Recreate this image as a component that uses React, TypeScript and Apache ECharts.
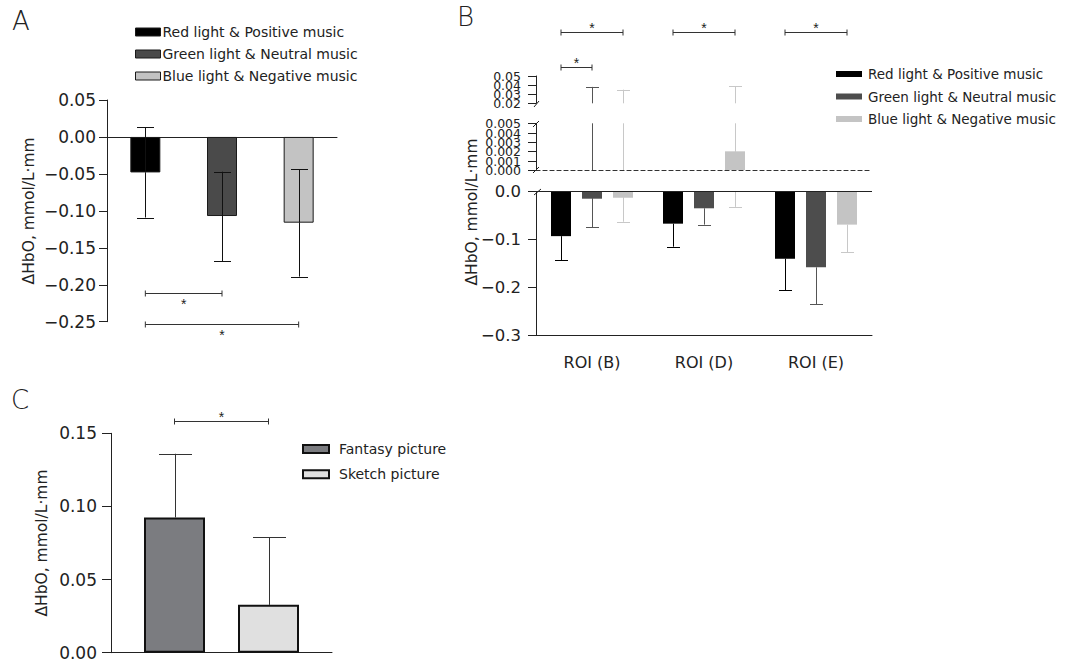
import React, { useEffect, useRef } from "react";
import * as echarts from "echarts";

// ---------------- Data ----------------
const conditionNames = [
  "Red light & Positive music",
  "Green light & Neutral music",
  "Blue light & Negative music",
];

// Panel A (ΔHbO per condition)
const meanA = [-0.048, -0.107, -0.116];
const lowA = [-0.109, -0.168, -0.189];
const highA = [0.013, -0.047, -0.044];
const yRangeA = [-0.25, 0.05, 0.05]; // min, max, step

// Panel B (per ROI, broken axis)
const roiCategories = ["ROI (B)", "ROI (D)", "ROI (E)"];
const meanRedB = [-0.093, -0.067, -0.14];
const meanGreenB = [-0.015, -0.035, -0.158];
const meanBlueB = [-0.013, 0.002, -0.069];
const lowRedB = [-0.143, -0.115, -0.206];
const lowGreenB = [-0.074, -0.069, -0.235];
const lowBlueB = [-0.063, -0.032, -0.127];
const highRedB: (number | null)[] = [null, null, null];
const highGreenB: (number | null)[] = [0.038, null, null];
const highBlueB: (number | null)[] = [0.035, 0.039, null];
const ticksTopB = [0.02, 0.03, 0.04, 0.05];
const ticksMidB = [0, 0.001, 0.002, 0.003, 0.004, 0.005];
const segLowB = [-0.3, 0, 0.1];

// Panel C
const pictureNames = ["Fantasy picture", "Sketch picture"];
const meanC = [0.0925, 0.0327];
const highC = [0.136, 0.0788];
const yRangeC = [0, 0.15, 0.05];

// Significance brackets (which bars are compared)
const sigA = [
  { catA: 0, catB: 1, level: 0 },
  { catA: 0, catB: 2, level: 1 },
];
const sigB = [
  { cat: 0, sA: 0, sB: 2, level: 0 },
  { cat: 0, sA: 0, sB: 1, level: 1 },
  { cat: 1, sA: 0, sB: 2, level: 0 },
  { cat: 2, sA: 0, sB: 2, level: 0 },
];
const sigC = [{ sA: 0, sB: 1, level: 0 }];

// ---------------- Style / layout ----------------
const FONT = "'DejaVu Sans', 'Liberation Sans', sans-serif";
const STAR_FONT = "'Liberation Sans', sans-serif";
const AXIS = "#222";
const TEXT = "#222";
const colorsA = ["#000000", "#4a4a4a", "#c3c3c3"];
const colorsB = ["#000000", "#4d4d4d", "#c4c4c4"];
const errColorsB = ["#000000", "#555555", "#c8c8c8"];
const colorsC = ["#7b7c80", "#e0e0e0"];
const bracketLevelA = [-0.2116, -0.2531];
const bracketLevelB = [0.0984, 0.0602];
const bracketLevelC = [0.1587];
const BAR_W_B = 20;
const GAP_B = 11;
const BAR_W_C = 61;
const GAP_C = 33;
const offB = (s: number) => (s - 1) * (BAR_W_B + GAP_B);
const offC = (s: number) => (s - 0.5) * (BAR_W_C + GAP_C);
const NAME = "ΔHbO, mmol/L·mm";

const fmt = (digits: number) => (v: number) =>
  (v < -1e-9 ? "\u2212" : "") + Math.abs(v).toFixed(digits);

const rangeOf = (ticks: number[]) => [ticks[0], ticks[ticks.length - 1], ticks[1] - ticks[0]];
const segTopB = rangeOf(ticksTopB);
const segMidB = rangeOf(ticksMidB);

type Num = number | null;

function errorBars(o: {
  xAxisIndex: number;
  yAxisIndex: number;
  means: number[];
  lows: Num[];
  highs: Num[];
  offset: number;
  color: string;
  cap: number;
  range: number[];
  z: number;
}) {
  const [rMin, rMax] = o.range;
  return {
    type: "custom",
    xAxisIndex: o.xAxisIndex,
    yAxisIndex: o.yAxisIndex,
    z: o.z,
    silent: true,
    itemStyle: { color: o.color },
    data: o.means.map((m, i) => [i, m]),
    encode: { x: 0, y: 1 },
    renderItem: (params: any, api: any) => {
      const i = params.dataIndex;
      const m = o.means[i];
      const cx = Math.round(api.coord([i, 0])[0] + o.offset) + 0.5;
      const children: any[] = [];
      const seg = (end: Num) => {
        if (end == null) return;
        const lo = Math.max(Math.min(m, end), rMin);
        const hi = Math.min(Math.max(m, end), rMax);
        if (lo >= hi) return;
        const y1 = api.coord([i, lo])[1];
        const y2 = api.coord([i, hi])[1];
        children.push({
          type: "line",
          shape: { x1: cx, y1, x2: cx, y2 },
          style: { stroke: o.color, lineWidth: 1 },
        });
        if (end >= rMin && end <= rMax) {
          const yb = Math.round(api.coord([i, end])[1]) + 0.5;
          children.push({
            type: "line",
            shape: { x1: cx - o.cap / 2, y1: yb, x2: cx + o.cap / 2, y2: yb },
            style: { stroke: o.color, lineWidth: 1 },
          });
        }
      };
      seg(o.lows[i]);
      seg(o.highs[i]);
      return { type: "group", children };
    },
  };
}

function brackets(o: {
  xAxisIndex: number;
  yAxisIndex: number;
  items: { catA: number; xA: number; catB: number; xB: number; y: number }[];
  starDy: number;
}) {
  return {
    type: "custom",
    xAxisIndex: o.xAxisIndex,
    yAxisIndex: o.yAxisIndex,
    z: 5,
    silent: true,
    clip: false,
    itemStyle: { color: "#222" },
    data: o.items.map((it) => [it.catA, it.y]),
    encode: { x: 0, y: 1 },
    renderItem: (params: any, api: any) => {
      const it = o.items[params.dataIndex];
      const pA = api.coord([it.catA, it.y]);
      const pB = api.coord([it.catB, it.y]);
      const x1 = pA[0] + it.xA;
      const x2 = pB[0] + it.xB;
      const y = Math.round(pA[1]) + 0.5;
      const st = { stroke: "#333", lineWidth: 1 };
      return {
        type: "group",
        children: [
          { type: "line", shape: { x1, y1: y, x2, y2: y }, style: st },
          { type: "line", shape: { x1, y1: y - 3, x2: x1, y2: y + 3 }, style: st },
          { type: "line", shape: { x1: x2, y1: y - 3, x2, y2: y + 3 }, style: st },
          {
            type: "text",
            style: {
              text: "*",
              x: (x1 + x2) / 2,
              y: y + o.starDy,
              align: "center",
              verticalAlign: "middle",
              fontFamily: STAR_FONT,
              fontSize: 14,
              fill: "#222",
            },
          },
        ],
      };
    },
  };
}

// Tick marks + labels for the short broken-axis segments (drawn so that none is hidden)
function tickLabels(o: {
  xAxisIndex: number;
  yAxisIndex: number;
  ticks: number[];
  digits: number;
  fontSize: number;
  tickLen: number;
  margin: number;
}) {
  return {
    type: "custom",
    xAxisIndex: o.xAxisIndex,
    yAxisIndex: o.yAxisIndex,
    z: 5,
    silent: true,
    clip: false,
    itemStyle: { color: TEXT },
    data: o.ticks.map((v) => [0, v]),
    encode: { x: 0, y: 1 },
    renderItem: (params: any, api: any) => {
      const v = o.ticks[params.dataIndex];
      const ax = params.coordSys.x;
      const y = Math.round(api.coord([0, v])[1]) + 0.5;
      return {
        type: "group",
        children: [
          {
            type: "line",
            shape: { x1: ax - o.tickLen, y1: y, x2: ax, y2: y },
            style: { stroke: AXIS, lineWidth: 1 },
          },
          {
            type: "text",
            style: {
              text: fmt(o.digits)(v),
              x: ax - o.margin,
              y,
              align: "right",
              verticalAlign: "middle",
              fontFamily: FONT,
              fontSize: o.fontSize,
              fill: TEXT,
            },
          },
        ],
      };
    },
  };
}

function valueAxis(
  gridIndex: number,
  r: number[],
  digits: number,
  fontSize: number,
  margin: number,
  tickLen: number,
  extra: any = {}
) {
  return {
    type: "value",
    gridIndex,
    min: r[0],
    max: r[1],
    interval: r[2],
    axisLine: { show: true, lineStyle: { color: AXIS, width: 1 } },
    axisTick: { show: true, length: tickLen, lineStyle: { color: AXIS, width: 1 } },
    splitLine: { show: false },
    axisLabel: {
      formatter: fmt(digits),
      fontFamily: FONT,
      fontSize,
      color: TEXT,
      margin,
      showMinLabel: true,
      showMaxLabel: true,
    },
    ...extra,
  };
}

function buildOption() {
  const gridBase = { outerBoundsMode: "none", containLabel: false };
  const grid = [
    { ...gridBase, left: 107, top: 100, width: 230, height: 221.7 },
    { ...gridBase, left: 536, top: 76, width: 336, height: 27.3 },
    { ...gridBase, left: 536, top: 123.3, width: 336, height: 46.7 },
    { ...gridBase, left: 536, top: 191.5, width: 336, height: 144 },
    { ...gridBase, left: 111, top: 433.3, width: 221, height: 219.4 },
  ];

  const xAxis = [
    {
      type: "category",
      gridIndex: 0,
      data: conditionNames,
      axisLine: { onZero: true, lineStyle: { color: AXIS, width: 1 } },
      axisTick: { show: false },
      axisLabel: { show: false },
    },
    { type: "category", gridIndex: 1, data: roiCategories, show: false },
    {
      type: "category",
      gridIndex: 2,
      data: roiCategories,
      position: "bottom",
      axisLine: { show: true, onZero: false, lineStyle: { color: "#333", width: 1.2, type: [4, 3] } },
      axisTick: { show: false },
      axisLabel: { show: false },
    },
    {
      type: "category",
      gridIndex: 3,
      data: roiCategories,
      position: "bottom",
      axisLine: { onZero: false, lineStyle: { color: AXIS, width: 1 } },
      axisTick: { alignWithLabel: true, length: 7, lineStyle: { color: AXIS } },
      axisLabel: { fontFamily: FONT, fontSize: 16, color: TEXT, margin: 19 },
    },
    {
      type: "category",
      gridIndex: 4,
      data: ["all"],
      axisLine: { onZero: true, lineStyle: { color: AXIS, width: 1 } },
      axisTick: { show: false },
      axisLabel: { show: false },
    },
  ];

  const nameStyle = { fontFamily: FONT, fontSize: 15.5, color: TEXT };
  const bare = { axisTick: { show: false }, axisLabel: { show: false } };
  const yAxis = [
    valueAxis(0, yRangeA, 2, 17, 11, 8, {
      name: NAME,
      nameLocation: "middle",
      nameGap: 70,
      nameTextStyle: nameStyle,
    }),
    valueAxis(1, segTopB, 2, 12.5, 15, 8, bare),
    valueAxis(2, segMidB, 3, 12.5, 15, 8, bare),
    valueAxis(3, segLowB, 1, 16.5, 15, 8),
    valueAxis(4, yRangeC, 2, 17, 14, 9, {
      name: NAME,
      nameLocation: "middle",
      nameGap: 61,
      nameTextStyle: nameStyle,
    }),
  ];

  const series: any[] = [];

  // ---- Panel A ----
  conditionNames.forEach((name, s) => {
    series.push({
      type: "bar",
      name,
      xAxisIndex: 0,
      yAxisIndex: 0,
      data: meanA.map((v, i) => (i === s ? v : null)),
      barWidth: 30,
      barGap: "-100%",
      itemStyle: { color: colorsA[s], borderColor: "#1a1a1a", borderWidth: 1 },
      z: 2,
      silent: true,
    });
  });
  series.push(
    errorBars({
      xAxisIndex: 0,
      yAxisIndex: 0,
      means: meanA,
      lows: lowA,
      highs: highA,
      offset: 0,
      color: "#111",
      cap: 17,
      range: [yRangeA[0], yRangeA[1]],
      z: 4,
    })
  );
  series.push(
    brackets({
      xAxisIndex: 0,
      yAxisIndex: 0,
      items: sigA.map((b) => ({ catA: b.catA, xA: 0, catB: b.catB, xB: 0, y: bracketLevelA[b.level] })),
      starDy: 10,
    })
  );

  // ---- Panel B ----
  const meansB = [meanRedB, meanGreenB, meanBlueB];
  const lowsB = [lowRedB, lowGreenB, lowBlueB];
  const highsB = [highRedB, highGreenB, highBlueB];
  const segs = [
    { g: 1, r: segTopB },
    { g: 2, r: segMidB },
    { g: 3, r: segLowB },
  ];
  series.push(
    tickLabels({ xAxisIndex: 1, yAxisIndex: 1, ticks: ticksTopB, digits: 2, fontSize: 12.5, tickLen: 8, margin: 15 }),
    tickLabels({ xAxisIndex: 2, yAxisIndex: 2, ticks: ticksMidB, digits: 3, fontSize: 12.5, tickLen: 8, margin: 15 })
  );
  [2, 3].forEach((g) => {
    conditionNames.forEach((name, s) => {
      series.push({
        type: "bar",
        name,
        xAxisIndex: g,
        yAxisIndex: g,
        data: meansB[s],
        barWidth: BAR_W_B,
        barGap: `${(GAP_B / BAR_W_B) * 100}%`,
        itemStyle: { color: colorsB[s] },
        clip: true,
        z: 3,
        silent: true,
        ...(g === 3 && s === 0
          ? {
              markLine: {
                silent: true,
                symbol: "none",
                label: { show: false },
                lineStyle: { color: AXIS, type: "solid", width: 1 },
                data: [{ yAxis: 0 }],
              },
            }
          : {}),
      });
    });
  });
  segs.forEach(({ g, r }) => {
    conditionNames.forEach((_, s) => {
      series.push(
        errorBars({
          xAxisIndex: g,
          yAxisIndex: g,
          means: meansB[s],
          lows: lowsB[s],
          highs: highsB[s],
          offset: offB(s),
          color: errColorsB[s],
          cap: 13,
          range: [r[0], r[1]],
          z: 2,
        })
      );
    });
  });
  series.push(
    brackets({
      xAxisIndex: 1,
      yAxisIndex: 1,
      items: sigB.map((b) => ({
        catA: b.cat,
        xA: offB(b.sA),
        catB: b.cat,
        xB: offB(b.sB),
        y: bracketLevelB[b.level],
      })),
      starDy: -5,
    })
  );

  // ---- Panel C ----
  pictureNames.forEach((name, s) => {
    series.push({
      type: "bar",
      name,
      xAxisIndex: 4,
      yAxisIndex: 4,
      data: [meanC[s]],
      barWidth: BAR_W_C,
      barGap: `${(GAP_C / BAR_W_C) * 100}%`,
      itemStyle: { color: colorsC[s], borderColor: "#111", borderWidth: 2 },
      z: 3,
      silent: true,
    });
    series.push(
      errorBars({
        xAxisIndex: 4,
        yAxisIndex: 4,
        means: [meanC[s]],
        lows: [null],
        highs: [highC[s]],
        offset: offC(s),
        color: "#333",
        cap: 33,
        range: [yRangeC[0], yRangeC[1]],
        z: 2,
      })
    );
  });
  series.push(
    brackets({
      xAxisIndex: 4,
      yAxisIndex: 4,
      items: sigC.map((b) => ({ catA: 0, xA: offC(b.sA), catB: 0, xB: offC(b.sB), y: bracketLevelC[b.level] })),
      starDy: -5,
    })
  );

  const legendText = { fontFamily: FONT, fontSize: 14, color: TEXT, lineHeight: 16 };
  const legend = [
    {
      orient: "vertical",
      left: 135,
      top: 24,
      padding: 0,
      itemWidth: 25,
      itemHeight: 8,
      itemGap: 6,
      icon: "rect",
      selectedMode: false,
      textStyle: { ...legendText, padding: [0, 0, 0, -3] },
      data: conditionNames.map((name, i) => ({
        name,
        itemStyle: { color: colorsA[i], borderColor: "#1a1a1a", borderWidth: 1 },
      })),
    },
    {
      orient: "vertical",
      left: 836,
      top: 66,
      padding: 0,
      itemWidth: 26,
      itemHeight: 6,
      itemGap: 6.5,
      icon: "rect",
      selectedMode: false,
      textStyle: { ...legendText, fontSize: 13.5, padding: [0, 0, 0, 1] },
      data: conditionNames.map((name, i) => ({
        name,
        itemStyle: { color: colorsB[i], borderWidth: 0 },
      })),
    },
    {
      orient: "vertical",
      left: 302,
      top: 441,
      padding: 0,
      itemWidth: 26,
      itemHeight: 8,
      itemGap: 9.3,
      icon: "rect",
      selectedMode: false,
      textStyle: { ...legendText, padding: [0, 0, 0, 5] },
      data: pictureNames.map((name, i) => ({
        name,
        itemStyle: { color: colorsC[i], borderColor: "#111", borderWidth: 2 },
      })),
    },
  ];

  const letter = (t: string, x: number, y: number) => ({
    type: "text",
    x,
    y,
    style: { text: t, fontFamily: FONT, fontSize: 26, fontWeight: 300, fill: TEXT },
    silent: true,
  });
  const brk = (x1: number, y1: number, x2: number, y2: number) => ({
    type: "line",
    shape: { x1, y1, x2, y2 },
    style: { stroke: AXIS, lineWidth: 1 },
    silent: true,
  });

  const graphic = [
    letter("A", 12, 8),
    letter("B", 457, 4),
    letter("C", 11, 387),
    {
      type: "text",
      x: 472,
      y: 212,
      rotation: Math.PI / 2,
      style: {
        text: NAME,
        fontFamily: FONT,
        fontSize: 15.5,
        fill: TEXT,
        align: "center",
        verticalAlign: "middle",
      },
      silent: true,
    },
    brk(534, 107, 539, 101),
    brk(533, 127, 539, 121),
    brk(533, 173, 539, 167),
    brk(534, 195, 541, 189),
  ];

  return {
    animation: false,
    backgroundColor: "#ffffff",
    grid,
    xAxis,
    yAxis,
    series,
    legend,
    graphic,
  };
}

export default function App() {
  const ref = useRef<HTMLDivElement>(null);
  useEffect(() => {
    const chart = echarts.init(ref.current!, null, { renderer: "svg" });
    chart.setOption(buildOption() as any);
    return () => chart.dispose();
  }, []);
  return (
    <div
      ref={ref}
      style={{ position: "absolute", left: 0, top: 0, width: 1067, height: 660 }}
    />
  );
}
